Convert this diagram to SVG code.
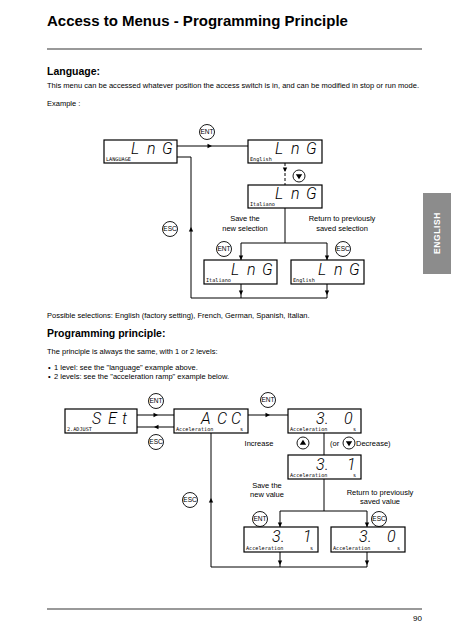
<svg xmlns="http://www.w3.org/2000/svg" xmlns:xlink="http://www.w3.org/1999/xlink" width="451" height="640" viewBox="0 0 451 640">
<style>
text{font-family:"Liberation Sans",Arial,sans-serif;fill:#000}
.title{font-size:15px;font-weight:bold}
.h2{font-size:10.5px;font-weight:bold}
.body{font-size:7.5px}
.lbl{font-size:7.5px;text-anchor:middle}
.box{fill:#fff;stroke:#000;stroke-width:1.2}
.seg{font-family:Roboto,"Liberation Sans",sans-serif;font-size:16px;font-style:italic;font-weight:300}
.small{font-family:"DejaVu Sans Mono","Liberation Mono",monospace;font-size:5.2px}
.ln{fill:none;stroke:#000;stroke-width:1}
.btn circle{fill:#fff;stroke:#000;stroke-width:0.9}
.btn text{font-size:6.5px;text-anchor:middle}
.rule{stroke:#777;stroke-width:1.6}
</style>
<defs>
<path id="ah" d="M0,0 L-4.5,-2.2 L-4.5,2.2 Z" fill="#000"/>
<g id="ent" class="btn"><circle r="7.5"/><text y="2.3">ENT</text></g>
<g id="esc" class="btn"><circle r="7.5"/><text y="2.3">ESC</text></g>
<g id="dn"><circle r="6" fill="#fff" stroke="#000" stroke-width="0.9"/><path d="M-3.2,-1.8 L3.2,-1.8 L0,3.2 Z" fill="#000"/></g>
<g id="up"><circle r="6" fill="#fff" stroke="#000" stroke-width="0.9"/><path d="M-3.2,1.8 L3.2,1.8 L0,-3.2 Z" fill="#000"/></g>
</defs>
<rect width="451" height="640" fill="#fff"/>

<text class="title" x="47" y="26">Access to Menus - Programming Principle</text>
<line class="rule" x1="47" y1="49" x2="422" y2="49"/>
<text class="h2" x="47" y="75">Language:</text>
<text class="body" x="47" y="88" textLength="372" lengthAdjust="spacingAndGlyphs">This menu can be accessed whatever position the access switch is in, and can be modified in stop or run mode.</text>
<text class="body" x="47" y="106">Example :</text>

<g id="connectors-language">
<line class="ln" x1="177" y1="146" x2="248" y2="146"/>
<use xlink:href="#ah" transform="translate(212,146)"/>
<line class="ln" x1="285" y1="163" x2="285" y2="185" stroke-dasharray="3,2"/>
<use xlink:href="#ah" transform="translate(285,172) rotate(90)"/>
<polyline class="ln" points="285,208 285,243"/>
<polyline class="ln" points="241,260 241,243 327,243 327,260"/>
<use xlink:href="#ah" transform="translate(241,260) rotate(90)"/>
<use xlink:href="#ah" transform="translate(327,260) rotate(90)"/>
<polyline class="ln" points="177,157 191,157 191,298 327,298"/>
<line class="ln" x1="241" y1="284" x2="241" y2="298"/>
<line class="ln" x1="327" y1="284" x2="327" y2="298"/>
<use xlink:href="#ah" transform="translate(241,295) rotate(90)"/>
<use xlink:href="#ah" transform="translate(327,295) rotate(90)"/>
<use xlink:href="#ah" transform="translate(191,227) rotate(-90)"/>
</g>

<g id="btn-lng-ent"><use xlink:href="#ent" x="207" y="132"/></g>
<g id="btn-lng-down"><use xlink:href="#dn" x="299" y="176"/></g>
<g id="btn-lng-esc1"><use xlink:href="#esc" x="170" y="229"/></g>
<g id="btn-lng-ent2"><use xlink:href="#ent" x="224" y="249"/></g>
<g id="btn-lng-esc2"><use xlink:href="#esc" x="343" y="249"/></g>

<text class="lbl" x="245" y="221">Save the</text>
<text class="lbl" x="245" y="230.5">new selection</text>
<text class="lbl" x="342" y="221">Return to previously</text>
<text class="lbl" x="342" y="230.5">saved selection</text>

<g id="lng-main">
<rect class="box" x="104" y="140" width="73" height="23"/>
<text class="seg" x="131 147 162" y="154">LnG</text>
<text class="small" x="106" y="161">LANGUAGE</text>
</g>
<g id="lng-english">
<rect class="box" x="248" y="140" width="74" height="23"/>
<text class="seg" x="275 291 306" y="154">LnG</text>
<text class="small" x="250" y="161">English</text>
</g>
<g id="lng-italiano">
<rect class="box" x="248" y="185" width="74" height="23"/>
<text class="seg" x="275 291 306" y="199">LnG</text>
<text class="small" x="250" y="206">Italiano</text>
</g>
<g id="lng-saved">
<rect class="box" x="204" y="260" width="73" height="24"/>
<text class="seg" x="231 247 262" y="275">LnG</text>
<text class="small" x="206" y="282">Italiano</text>
</g>
<g id="lng-restored">
<rect class="box" x="291" y="260" width="73" height="24"/>
<text class="seg" x="318 334 349" y="275">LnG</text>
<text class="small" x="293" y="282">English</text>
</g>

<g id="tab">
<rect x="423" y="193" width="28" height="81" fill="#8c8c8c"/>
<text x="0" y="0" transform="translate(440,233) rotate(-90)" text-anchor="middle" style="font-size:8.5px;font-weight:bold;fill:#fff;letter-spacing:0.6px">ENGLISH</text>
</g>

<text class="body" x="47" y="318">Possible selections: English (factory setting), French, German, Spanish, Italian.</text>
<text class="h2" x="47" y="337">Programming principle:</text>
<text class="body" x="47" y="354">The principle is always the same, with 1 or 2 levels:</text>
<text class="body" x="48" y="370">•</text>
<text class="body" x="54" y="370">1 level: see the "language" example above.</text>
<text class="body" x="48" y="379">•</text>
<text class="body" x="54" y="379">2 levels: see the "acceleration ramp" example below.</text>

<g id="connectors-prog">
<line class="ln" x1="137" y1="415" x2="174" y2="415"/>
<use xlink:href="#ah" transform="translate(158,415)"/>
<line class="ln" x1="137" y1="427" x2="174" y2="427"/>
<use xlink:href="#ah" transform="translate(154,427) rotate(180)"/>
<line class="ln" x1="248" y1="415" x2="288" y2="415"/>
<use xlink:href="#ah" transform="translate(270,415)"/>
<line class="ln" x1="324" y1="433" x2="324" y2="455"/>
<line class="ln" x1="324" y1="479" x2="324" y2="511"/>
<polyline class="ln" points="280,527 280,511 367,511 367,527"/>
<use xlink:href="#ah" transform="translate(280,527) rotate(90)"/>
<use xlink:href="#ah" transform="translate(367,527) rotate(90)"/>
<polyline class="ln" points="211,433 211,567 367,567"/>
<line class="ln" x1="280" y1="552" x2="280" y2="567"/>
<line class="ln" x1="367" y1="552" x2="367" y2="567"/>
<use xlink:href="#ah" transform="translate(280,565) rotate(90)"/>
<use xlink:href="#ah" transform="translate(367,565) rotate(90)"/>
<use xlink:href="#ah" transform="translate(211,498) rotate(-90)"/>
</g>

<g id="btn-prog-ent1"><use xlink:href="#ent" x="156" y="401"/></g>
<g id="btn-prog-esc1"><use xlink:href="#esc" x="156" y="442"/></g>
<g id="btn-prog-ent2"><use xlink:href="#ent" x="268" y="400"/></g>
<g id="btn-prog-up"><use xlink:href="#up" x="303" y="443"/></g>
<g id="btn-prog-down"><use xlink:href="#dn" x="349" y="443"/></g>
<g id="btn-prog-esc2"><use xlink:href="#esc" x="190" y="500"/></g>
<g id="btn-prog-ent3"><use xlink:href="#ent" x="260" y="519"/></g>
<g id="btn-prog-esc3"><use xlink:href="#esc" x="379" y="519"/></g>

<text class="lbl" x="259" y="446">Increase</text>
<text class="body" x="330" y="446">(or</text>
<text class="body" x="356" y="446">Decrease)</text>
<text class="lbl" x="267" y="488">Save the</text>
<text class="lbl" x="267" y="497">new value</text>
<text class="lbl" x="380" y="495">Return to previously</text>
<text class="lbl" x="380" y="504">saved value</text>

<g id="set">
<rect class="box" x="65" y="409" width="72" height="24"/>
<text class="seg" x="92 108 122" y="424">SEt</text>
<text class="small" x="67" y="431">2.ADJUST</text>
</g>
<g id="acc">
<rect class="box" x="174" y="409" width="74" height="24"/>
<text class="seg" x="201 217 231" y="424">ACC</text>
<text class="small" x="176" y="431">Acceleration</text>
<text class="small" x="240" y="431">s</text>
</g>
<g id="acc-30">
<rect class="box" x="288" y="409" width="73" height="24"/>
<text class="seg" x="316 325 344" y="424">3.0</text>
<text class="small" x="290" y="431">Acceleration</text>
<text class="small" x="353" y="431">s</text>
</g>
<g id="acc-31">
<rect class="box" x="288" y="455" width="73" height="24"/>
<text class="seg" x="316 325 347" y="470">3.1</text>
<text class="small" x="290" y="477">Acceleration</text>
<text class="small" x="353" y="477">s</text>
</g>
<g id="acc-saved">
<rect class="box" x="244" y="527" width="74" height="25"/>
<text class="seg" x="272 281 303" y="542">3.1</text>
<text class="small" x="246" y="550">Acceleration</text>
<text class="small" x="310" y="550">s</text>
</g>
<g id="acc-restored">
<rect class="box" x="331" y="527" width="74" height="25"/>
<text class="seg" x="359 368 387" y="542">3.0</text>
<text class="small" x="333" y="550">Acceleration</text>
<text class="small" x="397" y="550">s</text>
</g>

<line class="rule" x1="47" y1="609" x2="422" y2="609"/>
<text class="body" x="422" y="621" text-anchor="end" style="font-size:8px">90</text>
</svg>
